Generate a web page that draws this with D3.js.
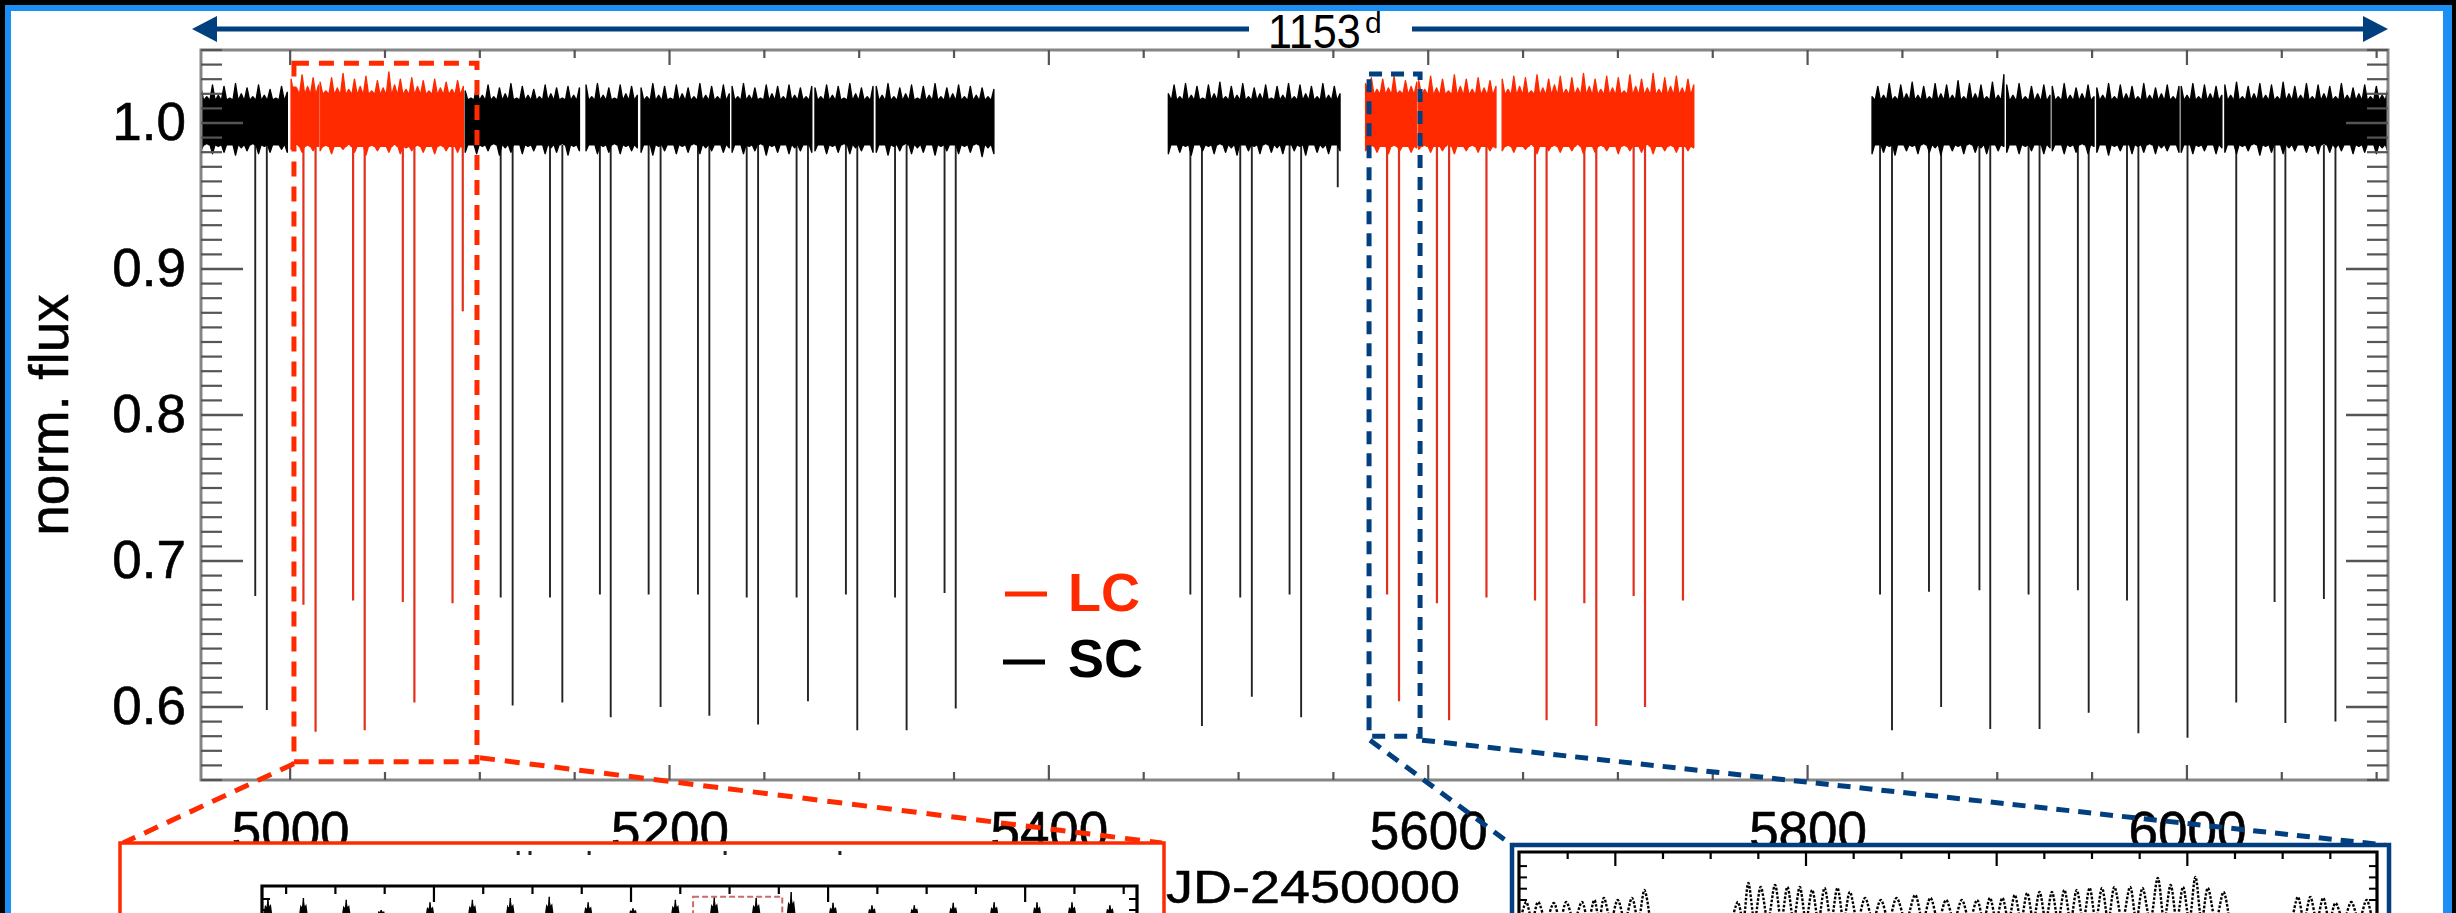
<!DOCTYPE html>
<html><head><meta charset="utf-8">
<script src="https://cdn.jsdelivr.net/npm/d3@7"></script>
<style>html,body{margin:0;padding:0;background:#000;overflow:hidden}svg{display:block}</style>
</head><body><svg id="chart" width="2456" height="913"></svg>
<script>
// ---------------- DATA ----------------
const xTickLabels = [5000, 5200, 5400, 5600, 5800, 6000];
const yTickLabels = [0.6, 0.7, 0.8, 0.9, 1.0];
const spanLabel = "1153";

// light-curve segments (BJD-2450000), cadence, and envelope of the pulsating band (flux)
const segStart = [4953.0, 5000.5, 5015.8, 5092.3, 5156.0, 5185.0, 5233.0, 5276.7, 5309.0, 5463.0, 5567.0, 5595.0, 5639.0, 5834.0, 5905.0, 5929.0, 5952.5, 5997.0, 6020.0];
const segEnd   = [4998.5, 5015.0, 5091.3, 5152.5, 5183.0, 5231.5, 5275.0, 5307.3, 5371.0, 5553.5, 5594.0, 5635.7, 5740.0, 5903.5, 5927.8, 5951.0, 5995.8, 6018.4, 6106.0];
const segCadence = ["SC","LC","LC","SC","SC","SC","SC","SC","SC","SC","LC","LC","LC","SC","SC","SC","SC","SC","SC"];
// solid core of the band (flux) for SC and LC data
const coreSC = [0.985, 1.016];
const coreLC = [0.984, 1.020];
const segTop = [
 [1.024,1.018,1.026,1.019,1.025,1.017,1.027,1.020,1.024,1.018,1.026,1.019,1.023,1.017,1.025,1.021],
 [1.030,1.024,1.033,1.025,1.031,1.026],
 [1.028,1.022,1.031,1.024,1.034,1.023,1.030,1.025,1.032,1.022,1.029,1.024,1.035,1.026,1.030,1.023,1.031,1.025,1.029,1.022,1.030,1.024,1.028,1.023,1.029,1.025],
 [1.022,1.017,1.025,1.019,1.026,1.018,1.024,1.020,1.027,1.017,1.025,1.019,1.023,1.018,1.026,1.020,1.024,1.017,1.025,1.019,1.024],
 [1.026,1.018,1.027,1.019,1.024,1.017,1.026,1.020,1.025,1.019],
 [1.024,1.018,1.027,1.019,1.025,1.017,1.026,1.020,1.024,1.018,1.027,1.019,1.025,1.018,1.026,1.020],
 [1.025,1.018,1.027,1.019,1.024,1.017,1.026,1.020,1.025,1.018,1.026,1.019,1.024,1.018,1.025],
 [1.024,1.018,1.026,1.019,1.025,1.017,1.027,1.020,1.024,1.018,1.025],
 [1.025,1.019,1.027,1.018,1.024,1.020,1.026,1.017,1.025,1.019,1.027,1.018,1.024,1.020,1.026,1.018,1.025,1.019,1.024,1.018,1.023],
 [1.020,1.026,1.018,1.027,1.019,1.025,1.017,1.026,1.020,1.028,1.018,1.025,1.019,1.027,1.018,1.024,1.020,1.026,1.017,1.025,1.019,1.027,1.018,1.026,1.020,1.025,1.018,1.027,1.019,1.025,1.020],
 [1.027,1.031,1.023,1.030,1.024,1.032,1.022,1.029,1.025,1.028],
 [1.029,1.023,1.032,1.024,1.030,1.022,1.033,1.025,1.030,1.023,1.031,1.024,1.029,1.025],
 [1.030,1.023,1.032,1.025,1.031,1.022,1.033,1.024,1.030,1.026,1.032,1.023,1.031,1.024,1.034,1.025,1.030,1.023,1.032,1.024,1.031,1.022,1.033,1.025,1.030,1.024,1.034,1.023,1.031,1.025,1.032,1.024,1.030,1.026],
 [1.018,1.025,1.019,1.027,1.018,1.026,1.020,1.028,1.019,1.025,1.018,1.027,1.020,1.026,1.019,1.029,1.018,1.027,1.020,1.026,1.018,1.028,1.019,1.033],
 [1.026,1.019,1.027,1.018,1.025,1.020,1.026,1.019],
 [1.025,1.018,1.027,1.019,1.024,1.020,1.026,1.018],
 [1.024,1.019,1.027,1.018,1.026,1.020,1.025,1.018,1.027,1.019,1.024,1.020,1.026,1.018,1.025],
 [1.025,1.019,1.027,1.018,1.026,1.020,1.025,1.019],
 [1.026,1.019,1.028,1.018,1.025,1.020,1.027,1.019,1.026,1.018,1.028,1.020,1.025,1.019,1.027,1.018,1.026,1.020,1.025,1.018,1.027,1.019,1.024,1.020,1.026,1.018,1.025,1.019,1.024]
];
const segBottom = [
 [0.981,0.986,0.979,0.984,0.980,0.985,0.978,0.983,0.981,0.986,0.979,0.984,0.980,0.985,0.982,0.980],
 [0.982,0.986,0.980,0.985,0.981,0.984],
 [0.981,0.985,0.979,0.984,0.982,0.986,0.980,0.984,0.978,0.985,0.981,0.984,0.980,0.986,0.979,0.983,0.981,0.985,0.980,0.984,0.979,0.985,0.981,0.984,0.980,0.983],
 [0.980,0.985,0.979,0.984,0.981,0.986,0.978,0.983,0.980,0.985,0.979,0.984,0.981,0.985,0.979,0.983,0.980,0.986,0.978,0.984,0.981],
 [0.981,0.985,0.979,0.984,0.980,0.986,0.979,0.984,0.981,0.983],
 [0.980,0.985,0.978,0.984,0.981,0.985,0.979,0.984,0.980,0.986,0.979,0.983,0.981,0.985,0.980,0.983],
 [0.980,0.985,0.979,0.984,0.981,0.986,0.978,0.984,0.980,0.985,0.979,0.983,0.981,0.985,0.980],
 [0.981,0.985,0.979,0.984,0.980,0.986,0.979,0.983,0.981,0.985,0.980],
 [0.980,0.985,0.978,0.984,0.981,0.986,0.979,0.983,0.980,0.985,0.978,0.984,0.981,0.985,0.979,0.984,0.980,0.986,0.977,0.983,0.979],
 [0.979,0.985,0.980,0.984,0.978,0.985,0.981,0.984,0.979,0.986,0.980,0.983,0.978,0.985,0.981,0.984,0.979,0.986,0.980,0.983,0.979,0.985,0.981,0.984,0.978,0.985,0.980,0.983,0.979,0.985,0.981],
 [0.981,0.985,0.980,0.984,0.979,0.985,0.981,0.984,0.980,0.983],
 [0.982,0.985,0.980,0.984,0.981,0.986,0.979,0.984,0.981,0.985,0.980,0.984,0.981,0.983],
 [0.981,0.985,0.980,0.984,0.982,0.986,0.979,0.984,0.981,0.985,0.980,0.984,0.981,0.986,0.979,0.984,0.980,0.985,0.981,0.984,0.979,0.985,0.981,0.984,0.980,0.986,0.979,0.984,0.981,0.985,0.980,0.984,0.981,0.983],
 [0.979,0.985,0.980,0.984,0.978,0.985,0.981,0.984,0.979,0.986,0.980,0.983,0.978,0.985,0.981,0.984,0.979,0.986,0.980,0.983,0.979,0.985,0.981,0.984],
 [0.980,0.985,0.979,0.984,0.981,0.985,0.979,0.983],
 [0.981,0.985,0.979,0.984,0.980,0.986,0.979,0.984],
 [0.980,0.985,0.978,0.984,0.981,0.985,0.979,0.984,0.980,0.986,0.979,0.983,0.981,0.985,0.980],
 [0.980,0.985,0.979,0.984,0.981,0.985,0.979,0.983],
 [0.980,0.985,0.979,0.984,0.981,0.986,0.978,0.984,0.980,0.985,0.979,0.983,0.981,0.985,0.980,0.984,0.979,0.986,0.980,0.983,0.981,0.985,0.979,0.984,0.980,0.985,0.979,0.983,0.980]
];

// eclipses: mid-time, minimum flux, cadence
const eclTime = [4981.6,4987.7,5111.0,5117.3,5137.0,5143.5,5163.3,5169.0,5189.0,5195.3,5215.0,5221.0,5240.7,5246.7,5267.0,5273.0,5293.0,5299.0,5318.9,5325.0,5345.0,5350.9,5474.6,5480.7,5500.9,5507.0,5526.9,5533.0,5552.3,5838.2,5844.5,5864.0,5870.4,5890.6,5896.3,5916.5,5922.3,5942.5,5948.2,5968.4,5974.4,6000.3,6026.0,6046.2,6051.9,6072.2,6078.3,
                 5007.0,5013.4,5033.2,5039.3,5059.4,5065.5,5085.6,5091.0,5578.3,5584.6,5604.6,5611.0,5630.7,5656.3,5662.4,5682.3,5688.6,5708.3,5714.3,5734.3];
const eclDepth = [0.676,0.598,0.675,0.601,0.675,0.603,0.677,0.593,0.677,0.600,0.677,0.594,0.675,0.588,0.675,0.604,0.677,0.584,0.675,0.584,0.678,0.599,0.677,0.587,0.675,0.607,0.677,0.593,0.956,0.677,0.584,0.679,0.600,0.680,0.585,0.677,0.585,0.680,0.596,0.673,0.582,0.579,0.603,0.672,0.589,0.674,0.590,
                  0.670,0.583,0.673,0.584,0.672,0.603,0.671,0.871,0.677,0.604,0.671,0.591,0.675,0.673,0.591,0.671,0.587,0.676,0.600,0.673];
const eclCadence = eclTime.map((t,i) => i < 47 ? "SC" : "LC");

// zoom boxes in data coordinates [t0, t1, fluxLow, fluxHigh]
const lcZoomBox = [5002.0, 5098.5, 0.5625, 1.041];
const scZoomBox = [5568.8, 5595.7, 0.580, 1.0335];

// inset (LC zoom) : bursts of the light curve, position in inset units and relative height
const redBurstK = [0.63,1.35,2.22,2.93,3.92,4.78,5.55,6.34,7.13,8.04,8.90,9.69,10.54,11.25,12.10,12.89,13.75,14.54,15.37,16.24,16.95,17.72];
const redBurstV = [0.25,0.25,0.22,0.05,0.18,0.22,0.25,0.27,0.18,0.08,0.22,0.27,0.25,0.35,0.17,0.13,0.13,0.17,0.18,0.18,0.18,0.13];
const redInsetMarksK = [5.71, 5.95, 7.15, 9.91, 12.24];
const redInsetSubBox = [9.26, 11.07, 0.27];

// inset (SC zoom) : pulsation peaks
const bluePeakK = [
 [2.13,2.38,2.71,2.97,3.30,3.56,3.76,4.05,4.35,4.61],
 [6.57,6.79,7.05,7.35,7.61,7.87,8.13,8.39,8.66,8.92,9.24,9.57,9.90,10.29,10.61,10.94,11.27,11.59,11.86,12.12,12.38,12.64,12.90,13.16,13.42,13.68,13.95,14.21,14.47,14.80,15.06,15.38,15.65,15.91,16.17,16.43,16.76],
 [18.32,18.58,18.85,19.11,19.44,19.76]
];
const bluePeakV = [
 [0.82,0.82,0.73,0.82,0.82,1.0,1.18,1.0,1.18,1.88],
 [0.82,2.5,2.15,2.33,2.15,2.15,1.88,2.06,2.06,1.71,1.18,1.0,1.18,1.44,1.18,1.0,1.0,1.0,1.18,1.18,1.44,1.62,1.71,1.71,1.88,1.88,2.06,2.06,2.15,2.15,2.06,2.95,2.33,2.15,3.04,2.06,1.71],
 [1.27,1.27,1.18,0.73,0.82,1.0]
];
const blueTroughV = -0.8;

// ---------------- DRAW ----------------
const RED = "#ff2a00", NAVY = "#023f7f", FONT = "'Liberation Sans', Arial, Helvetica, sans-serif";
const svg = d3.select("#chart");

// outer frame
svg.append("rect").attr("x",0).attr("y",0).attr("width",2456).attr("height",913).attr("fill","#000");
svg.append("rect").attr("x",5).attr("y",5).attr("width",2447).attr("height",1000).attr("fill","#1b8ff2");
svg.append("rect").attr("x",11).attr("y",11).attr("width",2432).attr("height",1000).attr("fill","#fff");

const x = d3.scaleLinear().domain([4953, 6106]).range([201, 2388]);
const y = d3.scaleLinear().domain([0.55, 1.05]).range([780, 50]);
const [X0, X1] = x.range(), [Y0, Y1] = y.range();

svg.append("defs").append("clipPath").attr("id","plotclip")
  .append("rect").attr("x",X0).attr("y",Y1).attr("width",X1-X0).attr("height",Y0-Y1);

const plot = svg.append("g").attr("clip-path","url(#plotclip)");

// eclipses
plot.append("g").selectAll("line").data(eclTime.map((t,i)=>({t, d:eclDepth[i], c:eclCadence[i]})))
  .join("line")
  .attr("x1", d=>x(d.t)).attr("x2", d=>x(d.t))
  .attr("y1", y(0.985)).attr("y2", d=>y(d.d))
  .attr("stroke", d=> d.c==="LC" ? "#e2301c" : "#222")
  .attr("stroke-width", d=> d.c==="LC" ? 2.2 : 1.9);

// pulsating band: solid core + spikes at each sampled extreme
const bandLine = d3.line().x(d=>x(d[0])).y(d=>y(d[1]));
segStart.forEach((s,i)=>{
  const e = segEnd[i], tops = segTop[i], bots = segBottom[i], n = tops.length;
  const core = segCadence[i]==="LC" ? coreLC : coreSC;
  const hw = 1.3;
  const ts = tops.map((_,j)=> s + j*(e-s)/(n-1));
  const upper = [[s, core[1]]];
  ts.forEach((t,j)=>{ upper.push([Math.max(s,t-hw), core[1]], [t, tops[j]], [Math.min(e,t+hw), core[1]]); });
  upper.push([e, core[1]]);
  const lower = [[e, core[0]]];
  ts.slice().reverse().forEach((t,jj)=>{ const j = n-1-jj; lower.push([Math.min(e,t+hw), core[0]], [t, bots[j]], [Math.max(s,t-hw), core[0]]); });
  lower.push([s, core[0]]);
  const col = segCadence[i]==="LC" ? RED : "#000";
  plot.append("path").attr("d", bandLine(upper.concat(lower)) + "Z").attr("fill", col)
    .attr("stroke", col).attr("stroke-width", 1.4).attr("stroke-linejoin","round");
});

// frame
svg.append("rect").attr("x",X0).attr("y",Y1).attr("width",X1-X0).attr("height",Y0-Y1)
  .attr("fill","none").attr("stroke","#858585").attr("stroke-width",3);

// minor / major ticks
const tickG = svg.append("g").attr("stroke","#555");
const yt = d3.range(55, 106).map(v=>v/100);
yt.forEach(v=>{
  const major = Math.round(v*100)%10===0 && v>=0.6 && v<=1.0;
  const L = major ? 42 : 21;
  tickG.append("line").attr("x1",X0).attr("x2",X0+L).attr("y1",y(v)).attr("y2",y(v)).attr("stroke-width", major?2.5:2.2);
  tickG.append("line").attr("x1",X1).attr("x2",X1-L).attr("y1",y(v)).attr("y2",y(v)).attr("stroke-width", major?2.5:2.2);
});
d3.range(5000, 6106, 50).forEach(t=>{
  const major = t%200===0;
  const L = major ? 15 : 8;
  tickG.append("line").attr("x1",x(t)).attr("x2",x(t)).attr("y1",Y1).attr("y2",Y1+L).attr("stroke-width",2.2);
  tickG.append("line").attr("x1",x(t)).attr("x2",x(t)).attr("y1",Y0).attr("y2",Y0-L).attr("stroke-width",2.2);
});

// tick labels through d3 axes
const yAxis = svg.append("g").attr("transform",`translate(${X0},0)`)
  .call(d3.axisLeft(y).tickValues(yTickLabels).tickFormat(d3.format(".1f")).tickSize(0).tickPadding(15));
yAxis.select(".domain").remove();
yAxis.selectAll("text").attr("font-family",FONT).attr("font-size",53).attr("fill","#000")
  .attr("stroke","#000").attr("stroke-width",0.6);

const xAxis = svg.append("g").attr("transform",`translate(0,${Y0})`)
  .call(d3.axisBottom(x).tickValues(xTickLabels).tickFormat(d3.format("d")).tickSize(0).tickPadding(31.5));
xAxis.select(".domain").remove();
xAxis.selectAll("text").attr("font-family",FONT).attr("font-size",53).attr("fill","#000")
  .attr("stroke","#000").attr("stroke-width",0.6);

// axis titles
svg.append("text").attr("transform","translate(68,415) rotate(-90)").attr("text-anchor","middle")
  .attr("font-family",FONT).attr("font-size",55).attr("fill","#000").attr("stroke","#000").attr("stroke-width",0.5).text("norm. flux");
svg.append("text").attr("x",1166).attr("y",902.5).attr("font-family",FONT).attr("font-size",46)
  .attr("textLength",294).attr("lengthAdjust","spacingAndGlyphs")
  .attr("fill","#000").attr("stroke","#000").attr("stroke-width",0.5).text("JD-2450000");

// legend
const leg = svg.append("g");
leg.append("line").attr("x1",1005).attr("x2",1047).attr("y1",594).attr("y2",594).attr("stroke",RED).attr("stroke-width",5);
leg.append("text").attr("x",1068).attr("y",611).attr("font-family",FONT).attr("font-weight","bold")
  .attr("font-size",54).attr("fill",RED).text("LC");
leg.append("line").attr("x1",1003).attr("x2",1045).attr("y1",662).attr("y2",662).attr("stroke","#000").attr("stroke-width",5);
leg.append("text").attr("x",1068).attr("y",677).attr("font-family",FONT).attr("font-weight","bold")
  .attr("font-size",54).attr("fill","#000").text("SC");

// span arrow
const aY = 29, aL = X0-9, aR = X1;
svg.append("line").attr("x1",aL+20).attr("x2",1249).attr("y1",aY).attr("y2",aY).attr("stroke",NAVY).attr("stroke-width",5);
svg.append("line").attr("x1",1412).attr("x2",aR-20).attr("y1",aY).attr("y2",aY).attr("stroke",NAVY).attr("stroke-width",5);
svg.append("polygon").attr("points",`${aL},${aY} ${aL+25},${aY-13} ${aL+25},${aY+13}`).attr("fill",NAVY);
svg.append("polygon").attr("points",`${aR},${aY} ${aR-25},${aY-13} ${aR-25},${aY+13}`).attr("fill",NAVY);
const lab = svg.append("g").attr("transform","translate(1268,48) scale(0.88,1)");
lab.append("text").attr("x",0).attr("y",0).attr("font-family",FONT).attr("font-size",49).attr("fill","#000").text(spanLabel);
svg.append("text").attr("x",1365).attr("y",33).attr("font-family",FONT).attr("font-size",30).attr("fill","#000").text("d");

// zoom boxes + connectors
function dashedBox(b, col, dash){
  svg.append("rect").attr("x",x(b[0])).attr("y",y(b[3])).attr("width",x(b[1])-x(b[0])).attr("height",y(b[2])-y(b[3]))
    .attr("fill","none").attr("stroke",col).attr("stroke-width",5).attr("stroke-dasharray",dash);
}
dashedBox(lcZoomBox, RED, "15,10");
dashedBox(scZoomBox, NAVY, "13,9");

// insets geometry
const redInset = {x0:120, x1:1164, y0:843};
const blueInset = {x0:1512, x1:2389, y0:845};

function conn(x1,y1,x2,y2,col,dash){
  svg.append("line").attr("x1",x1).attr("y1",y1).attr("x2",x2).attr("y2",y2)
    .attr("stroke",col).attr("stroke-width",5).attr("stroke-dasharray",dash);
}
conn(x(lcZoomBox[0]), y(lcZoomBox[2])+2, redInset.x0+3, redInset.y0, RED, "15,10");
conn(x(lcZoomBox[1])+3, y(lcZoomBox[2])-4, redInset.x1-2, redInset.y0, RED, "15,10");
conn(x(scZoomBox[0])+1, y(scZoomBox[2])+4, blueInset.x0, blueInset.y0, NAVY, "13,9");
conn(x(scZoomBox[1])+2, y(scZoomBox[2])+4, blueInset.x1-4, blueInset.y0, NAVY, "13,9");

// ---- red inset ----
svg.append("rect").attr("x",redInset.x0).attr("y",redInset.y0).attr("width",redInset.x1-redInset.x0).attr("height",200)
  .attr("fill","#fff").attr("stroke",RED).attr("stroke-width",3.5);
const rx = d3.scaleLinear().domain([0.51, 18.27]).range([262, 1137]);
const ry = d3.scaleLinear().domain([0, 1]).range([913, 853]);
const rg = svg.append("g");
redInsetMarksK.forEach(k=> rg.append("rect").attr("x",rx(k)-1.5).attr("y",851).attr("width",3).attr("height",4).attr("fill","#222"));
// bursts
redBurstK.forEach((k,i)=>{
  const v = redBurstV[i];
  rg.append("polygon").attr("points",`${rx(k-0.1)},${ry(-0.1)} ${rx(k-0.06)},${ry(v*0.55)} ${rx(k-0.03)},${ry(v*0.4)} ${rx(k)},${ry(v)} ${rx(k+0.03)},${ry(v*0.45)} ${rx(k+0.06)},${ry(v*0.6)} ${rx(k+0.1)},${ry(-0.1)}`)
    .attr("fill","#000");
  rg.append("line").attr("x1",rx(k)).attr("x2",rx(k)).attr("y1",ry(v)).attr("y2",913).attr("stroke","#000").attr("stroke-width",1.5);
});
rg.append("rect").attr("x",rx(redInsetSubBox[0])).attr("y",ry(redInsetSubBox[2])).attr("width",rx(redInsetSubBox[1])-rx(redInsetSubBox[0])).attr("height",60)
  .attr("fill","none").attr("stroke","#cc6b6b").attr("stroke-width",2).attr("stroke-dasharray","6,3");
// frame
rg.append("path").attr("d",`M${rx.range()[0]},${920} V886 H${rx.range()[1]} V${920}`).attr("fill","none").attr("stroke","#000").attr("stroke-width",3.2);
d3.range(1, 19).forEach(k=>{
  const L = k%4===0 ? 16 : 8;
  rg.append("line").attr("x1",rx(k)).attr("x2",rx(k)).attr("y1",886).attr("y2",886+L).attr("stroke","#000").attr("stroke-width",2.2);
});
[899, 910].forEach(yy=>{
  rg.append("line").attr("x1",262).attr("x2",270).attr("y1",yy).attr("y2",yy).attr("stroke","#000").attr("stroke-width",2);
  rg.append("line").attr("x1",1137).attr("x2",1129).attr("y1",yy).attr("y2",yy).attr("stroke","#000").attr("stroke-width",2);
});

// ---- blue inset ----
svg.append("rect").attr("x",blueInset.x0).attr("y",blueInset.y0).attr("width",blueInset.x1-blueInset.x0).attr("height",200)
  .attr("fill","#fff").attr("stroke",NAVY).attr("stroke-width",4.5);
const bx = d3.scaleLinear().domain([2, 20]).range([1520, 2378]);
const by = d3.scaleLinear().domain([0, 5]).range([911.3, 854.8]);
svg.append("defs").append("clipPath").attr("id","blueclip")
  .append("rect").attr("x",1520).attr("y",853).attr("width",858).attr("height",80);
const bg = svg.append("g");
const pg = bg.append("g").attr("clip-path","url(#blueclip)");
const pline = d3.line().x(d=>bx(d[0])).y(d=>by(d[1])).curve(d3.curveCatmullRom);
bluePeakK.forEach((ks,r)=>{
  const pts = [[ks[0]-0.12, blueTroughV]];
  ks.forEach((k,i)=>{
    pts.push([k, bluePeakV[r][i]]);
    const nk = i < ks.length-1 ? (k+ks[i+1])/2 : k+0.12;
    pts.push([nk, blueTroughV]);
  });
  pg.append("path").attr("d", pline(pts)).attr("fill","none").attr("stroke","#000")
    .attr("stroke-width",2.4).attr("stroke-dasharray","2.6,1.6");
});
bg.append("path").attr("d",`M1519,920 V852 H2377 V920`).attr("fill","none").attr("stroke","#000").attr("stroke-width",3.2);
d3.range(3, 20).forEach(k=>{
  const L = k%4===0 ? 14 : 7;
  bg.append("line").attr("x1",bx(k)).attr("x2",bx(k)).attr("y1",852).attr("y2",852+L).attr("stroke","#000").attr("stroke-width",2.2);
});
[1,2,3,4].forEach(v=>{
  bg.append("line").attr("x1",1519).attr("x2",1527).attr("y1",by(v)).attr("y2",by(v)).attr("stroke","#000").attr("stroke-width",2);
  bg.append("line").attr("x1",2377).attr("x2",2369).attr("y1",by(v)).attr("y2",by(v)).attr("stroke","#000").attr("stroke-width",2);
});
</script></body></html>
